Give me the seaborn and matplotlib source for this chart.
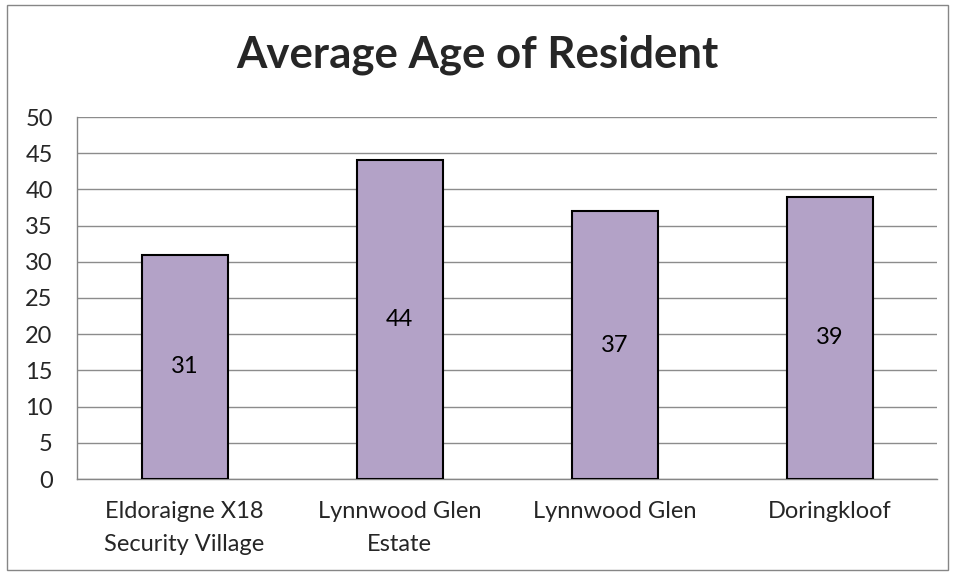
import matplotlib.pyplot as plt
import matplotlib.patches as mpatches
import pandas as pd
import seaborn as sns

categories = ["Eldoraigne X18\nSecurity Village", "Lynnwood Glen\nEstate", "Lynnwood Glen", "Doringkloof"]
ages = [31, 44, 37, 39]
y_ticks = list(range(0, 51, 5))

df = pd.DataFrame({"area": categories, "age": ages})

sns.set_theme(style="white")
plt.rcParams["font.family"] = ["Lato", "DejaVu Sans"]

fig = plt.figure(figsize=(9.55, 5.76), dpi=100)
ax = fig.add_axes([77 / 955, 1 - 479 / 576, (937 - 77) / 955, (479 - 117) / 576])

sns.barplot(data=df, x="area", y="age", color="#B3A2C7", saturation=1,
            width=0.4, edgecolor="black", linewidth=1.5, ax=ax, zorder=3)

for i, v in enumerate(ages):
    ax.text(i, v / 2, str(v), ha="center", va="center", fontsize=17, color="black", zorder=4)

ax.set_ylim(0, 50)
ax.set_xlim(-0.5, len(categories) - 0.5)
ax.set_yticks(y_ticks)
ax.set_xticks(range(len(categories)))
ax.set_xticklabels(categories, linespacing=1.7)
ax.set_xticks([x + 0.5 for x in range(-1, len(categories))], minor=True)
ax.tick_params(axis="x", which="major", length=0, pad=16, labelsize=17)
ax.tick_params(axis="x", which="minor", length=6.5, width=1, color="#868686", direction="out")
ax.tick_params(axis="y", length=6.5, width=1, color="#868686", direction="out", pad=11, labelsize=17)
ax.set_xlabel("")
ax.set_ylabel("")
ax.grid(axis="y", color="#8c8c8c", linewidth=1, zorder=0)
ax.grid(axis="x", visible=False)
for side in ["top", "right"]:
    ax.spines[side].set_visible(False)
for side in ["left", "bottom"]:
    ax.spines[side].set_color("#868686")
    ax.spines[side].set_linewidth(1)

fig.text(0.5, 1 - 55 / 576, "Average Age of Resident", ha="center", va="center",
         fontsize=31.5, fontweight="bold")

border = mpatches.Rectangle((7 / 955, 1 - 570 / 576), (948 - 7) / 955, (570 - 5) / 576,
                            transform=fig.transFigure, fill=False, edgecolor="#868686", linewidth=1)
fig.patches.append(border)

fig.savefig("out.png", dpi=100)
